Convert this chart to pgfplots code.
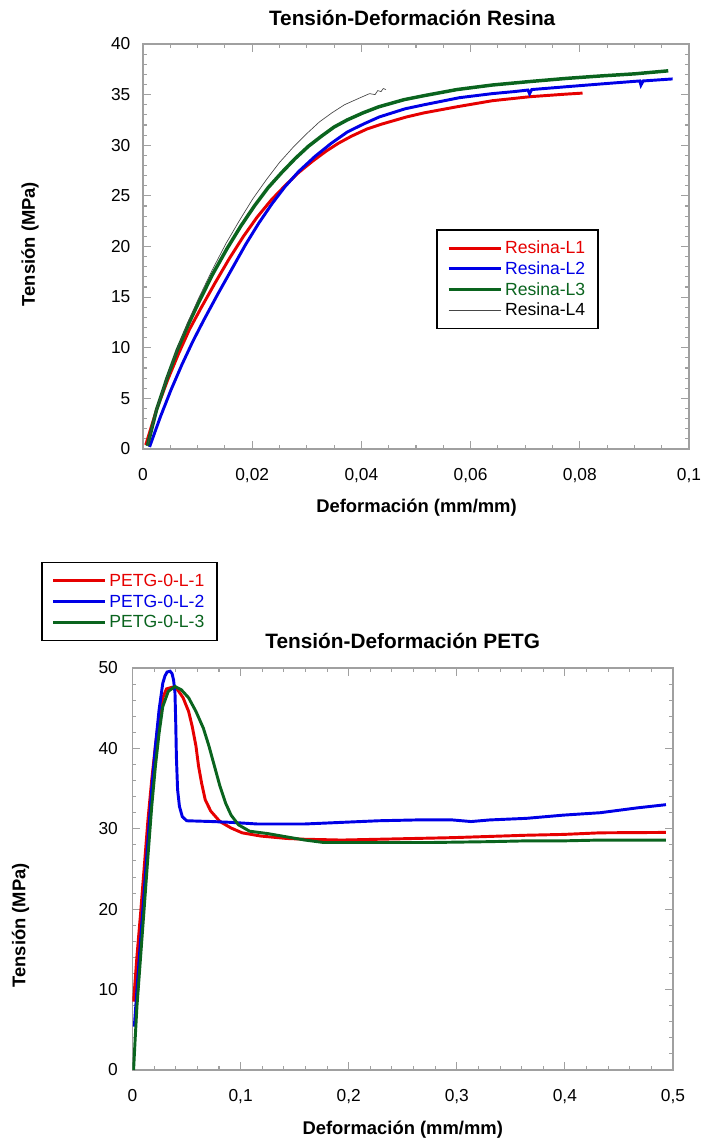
\documentclass[border=0pt]{standalone}
\usepackage{fontspec}
\setmainfont{Liberation Sans}
\usepackage{pgfplots}
\pgfplotsset{compat=1.18}
\definecolor{cred}{RGB}{230,0,0}
\definecolor{cblue}{RGB}{0,0,230}
\definecolor{cgreen}{RGB}{10,100,30}
\definecolor{cgray}{RGB}{70,70,70}
\definecolor{axgray}{RGB}{160,160,160}
\pgfplotsset{
 base/.style={
  scale only axis,
  axis line style={axgray, line width=0.9pt},
  tick style={axgray, line width=0.8pt},
  major tick length=6pt, minor tick length=3pt,
  tick align=inside,
  scaled ticks=false,
  /pgf/number format/assume math mode=true,
  /pgf/number format/use comma,
  /pgf/number format/1000 sep={},
  /pgf/number format/fixed,
  /pgf/number format/precision=2,
  tick label style={font=\fontsize{13}{15}\selectfont},
  xticklabel style={yshift=-11pt},
  label style={font=\bfseries\fontsize{13.8}{16}\selectfont},
  title style={font=\bfseries\fontsize{15.6}{18}\selectfont},
  legend cell align=left,
  legend style={draw=black, line width=1.1pt, font=\fontsize{13.2}{15}\selectfont,
    inner xsep=7.5pt, inner ysep=6pt,
    nodes={inner sep=2pt, text height=10pt, text depth=1.5pt}},
  legend image code/.code={\draw[#1] (0pt,0pt) -- (39pt,0pt);},
 }
}
\begin{document}
\begin{tikzpicture}
\useasboundingbox (0,0) rectangle (527.25pt,855pt);
% ---------------- Resina ----------------
\begin{axis}[base,
  at={(107.25pt,518.25pt)}, anchor=south west,
  width=409.5pt, height=303.75pt,
  xmin=0, xmax=0.1, ymin=0, ymax=40,
  xtick={0,0.02,0.04,0.06,0.08,0.1}, minor x tick num=3,
  ytick={0,5,10,15,20,25,30,35,40}, minor y tick num=4,
  yticklabel style={xshift=-6pt},
  title={Tensión-Deformación Resina},
  title style={at={(0.493,1.064)}, anchor=center, yshift=-6pt},
  xlabel={Deformación (mm/mm)},
  xlabel style={at={(0.501,-0.1457)}, anchor=center},
  ylabel={Tensión (MPa)},
  ylabel style={at={(-0.207,0.506)}, anchor=center},
  legend style={at={(0.537,0.543)}, anchor=north west},
]
\addplot[cred, line width=2.2pt] coordinates {
(0.0005,0.4) (0.0025,3.9) (0.0045,6.8) (0.0065,9.4) (0.0085,11.8) (0.0106,13.9)
(0.0132,16.4) (0.0158,18.8) (0.0184,21.0) (0.0209,22.9) (0.0235,24.6) (0.0260,26.0)
(0.0285,27.3) (0.0310,28.4) (0.0335,29.4) (0.0358,30.2) (0.0382,30.9) (0.0410,31.6)
(0.0438,32.1) (0.0483,32.8) (0.0515,33.2) (0.0575,33.8) (0.0640,34.4) (0.0710,34.8)
(0.0775,35.05) (0.0805,35.15)};
\addlegendentry{\textcolor{cred}{Resina-L1}}
\addplot[cblue, line width=2.2pt] coordinates {
(0.0012,0.2) (0.0032,3.2) (0.0051,5.8) (0.0071,8.3) (0.0091,10.6) (0.0111,12.7)
(0.0137,15.3) (0.0163,17.8) (0.0188,20.2) (0.0212,22.3) (0.0236,24.2) (0.0260,25.9)
(0.0285,27.4) (0.0315,28.9) (0.0345,30.2) (0.0374,31.3) (0.0404,32.1) (0.0433,32.8)
(0.0480,33.6) (0.0515,34.0) (0.0580,34.7) (0.0640,35.1) (0.0680,35.3) (0.0705,35.45)
(0.0708,35.1) (0.0712,35.5) (0.0780,35.8) (0.0850,36.1) (0.0910,36.35) (0.0912,35.95)
(0.0916,36.35) (0.0970,36.55)};
\addlegendentry{\textcolor{cblue}{Resina-L2}}
\addplot[cgreen, line width=2.6pt] coordinates {
(0.0008,0.3) (0.0025,3.9) (0.0044,7.0) (0.0063,9.8) (0.0083,12.3) (0.0103,14.6)
(0.0128,17.3) (0.0154,19.8) (0.0179,22.0) (0.0204,24.0) (0.0229,25.8) (0.0254,27.3)
(0.0279,28.7) (0.0303,29.9) (0.0327,30.9) (0.0350,31.8) (0.0374,32.5) (0.0403,33.2)
(0.0432,33.8) (0.0478,34.5) (0.0515,34.9) (0.0575,35.5) (0.0640,35.95) (0.0710,36.3)
(0.0775,36.6) (0.0840,36.85) (0.0900,37.05) (0.0962,37.35)};
\addlegendentry{\textcolor{cgreen}{Resina-L3}}
\addplot[cgray, line width=0.5pt] coordinates {
(0.0008,0.3) (0.0025,4.0) (0.0044,7.1) (0.0063,9.9) (0.0082,12.5) (0.0102,14.9)
(0.0127,17.7) (0.0152,20.3) (0.0177,22.6) (0.0201,24.7) (0.0226,26.6) (0.0250,28.3)
(0.0275,29.8) (0.0299,31.1) (0.0323,32.3) (0.0346,33.2) (0.0369,34.0) (0.0398,34.7)
(0.0415,35.1) (0.0425,35.0) (0.0430,35.4) (0.0436,35.3) (0.0440,35.6) (0.0445,35.5)};
\addlegendentry{Resina-L4}
\end{axis}
% ---------------- PETG ----------------
\begin{axis}[base,
  at={(99.375pt,52.5pt)}, anchor=south west,
  width=405.375pt, height=301.5pt,
  xmin=0, xmax=0.5, ymin=0, ymax=50,
  xtick={0,0.1,0.2,0.3,0.4,0.5}, minor x tick num=4,
  ytick={0,10,20,30,40,50}, minor y tick num=4,
  yticklabel style={xshift=-7.5pt},
  title={Tensión-Deformación PETG},
  title style={at={(0.5,1.067)}, anchor=center, yshift=-6pt},
  xlabel={Deformación (mm/mm)},
  xlabel style={at={(0.5,-0.149)}, anchor=center},
  ylabel={Tensión (MPa)},
  ylabel style={at={(-0.2072,0.36)}, anchor=center},
  legend style={at={(-0.169,1.264)}, anchor=north west},
]
\addplot[cred, line width=2.2pt] coordinates {
(0.0010,8.5) (0.0041,14.1) (0.0075,19.5) (0.0109,25.3) (0.0143,31.1) (0.0178,36.1)
(0.0212,40.3) (0.0246,44.0) (0.0280,46.3) (0.0314,47.4) (0.0365,47.6) (0.0417,47.3)
(0.0468,46.3) (0.0519,44.6) (0.0553,42.7) (0.0587,40.3) (0.0611,37.8) (0.0639,35.7)
(0.0673,33.6) (0.0724,32.2) (0.0809,30.9) (0.0912,30.1) (0.1014,29.5) (0.1185,29.1)
(0.1424,28.8) (0.1595,28.7) (0.1936,28.6) (0.2278,28.7) (0.2619,28.8) (0.2961,28.9)
(0.3302,29.05) (0.3644,29.2) (0.3985,29.3) (0.4327,29.5) (0.4935,29.55)};
\addlegendentry{\textcolor{cred}{PETG-0-L-1}}
\addplot[cblue, line width=2.2pt] coordinates {
(0.0017,5.4) (0.0041,9.96) (0.0075,16.2) (0.0109,22.4) (0.0143,28.6) (0.0178,34.9)
(0.0212,40.3) (0.0246,44.8) (0.0280,48.1) (0.0300,49.0) (0.0320,49.5) (0.0348,49.6)
(0.0366,49.3) (0.0380,48.5) (0.0393,46.9) (0.0400,43.2) (0.0406,39.0) (0.0417,34.9)
(0.0434,32.8) (0.0461,31.5) (0.0502,31.0) (0.0741,30.9) (0.0912,30.8) (0.1151,30.6)
(0.1595,30.6) (0.1936,30.8) (0.2278,31.0) (0.2619,31.1) (0.2961,31.1) (0.3132,30.9)
(0.3302,31.1) (0.3644,31.3) (0.3985,31.7) (0.4327,32.0) (0.4668,32.6) (0.4935,33.0)};
\addlegendentry{\textcolor{cblue}{PETG-0-L-2}}
\addplot[cgreen, line width=2.2pt] coordinates {
(0.0010,0) (0.0024,3.7) (0.0041,7.9) (0.0075,14.1) (0.0109,20.3) (0.0143,26.6)
(0.0178,32.8) (0.0212,37.8) (0.0246,41.9) (0.0280,45.2) (0.0331,47.1) (0.0393,47.7)
(0.0451,47.3) (0.0519,46.3) (0.0587,44.6) (0.0656,42.5) (0.0707,40.3) (0.0758,37.8)
(0.0809,35.3) (0.0861,33.2) (0.0912,31.7) (0.0980,30.5) (0.1083,29.7) (0.1253,29.4)
(0.1424,29.0) (0.1595,28.6) (0.1766,28.3) (0.1936,28.3) (0.2278,28.3) (0.2790,28.3)
(0.3302,28.4) (0.3644,28.5) (0.3985,28.5) (0.4327,28.6) (0.4935,28.6)};
\addlegendentry{\textcolor{cgreen}{PETG-0-L-3}}
\end{axis}
\end{tikzpicture}
\end{document}
